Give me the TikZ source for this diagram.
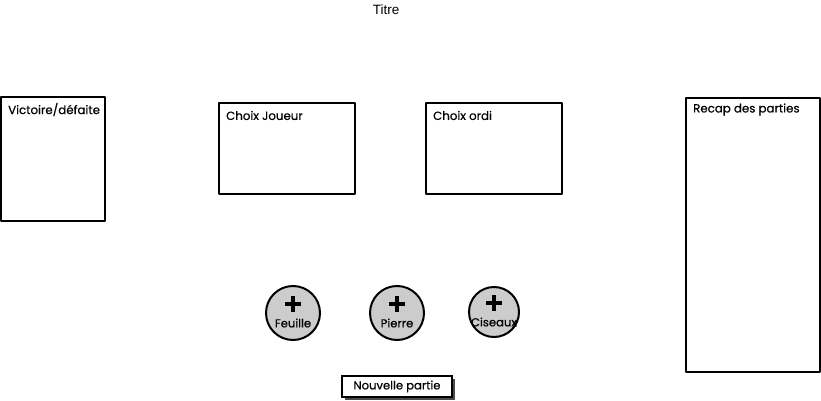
\documentclass[tikz,border=0pt]{standalone}
\usepackage{fontspec}
\setmainfont{Poppins}[FakeBold=0.5]
\newfontfamily\titlefont{Liberation Sans}
\begin{document}
\begin{tikzpicture}[x=1pt,y=-1pt,
  panel/.style={draw=black,line width=2pt,fill=white,line join=round},
  lbl/.style={anchor=west,inner sep=0pt,font=\fontsize{11.8}{13}\selectfont},
  btn/.style={circle,draw=black,line width=2pt,fill=black!20,minimum size=#1,inner sep=0pt},
  plusbar/.style={line width=4.6pt,black},
  btnlbl/.style={inner sep=0pt,font=\fontsize{11.6}{13}\selectfont}]
\useasboundingbox (0,0) rectangle (821,401);
\node[inner sep=0pt,font=\titlefont\fontsize{13.5}{15}\selectfont] (titre) at (386,10) {Titre};
% panels
\draw[panel] (1,97) rectangle (105,221);
\node[lbl] (vd) at (8,109.5) {Victoire/défaite};
\draw[panel] (219,103) rectangle (355,194);
\node[lbl] (cj) at (226,115.5) {Choix Joueur};
\draw[panel] (426,103) rectangle (562,194);
\node[lbl] (co) at (433,115.5) {Choix ordi};
\draw[panel] (686,98) rectangle (820,372);
\node[lbl] (rp) at (693,109.5) {Recap des parties};
% buttons
\foreach \nm/\cx/\cy/\d/\t in {f/293/313/54/Feuille, p/397/313/54/Pierre, c/494/312/50/Ciseaux}{
  \node[btn=\d pt] (\nm) at (\cx,\cy) {};
  \draw[plusbar] (\cx-8,\cy-9) -- (\cx+8,\cy-9);
  \draw[plusbar] (\cx,\cy-17) -- (\cx,\cy-1);
  \node[btnlbl] (\nm l) at (\cx,\cy+10) {\t};
}
% nouvelle partie
\fill[black!70] (345,379) rectangle (455,400);
\draw[fill=white,line width=1.4pt] (342,376) rectangle (452,397);
\node[inner sep=0pt,font=\fontsize{11.6}{13}\selectfont] (np) at (397,386.5) {Nouvelle partie};
\end{tikzpicture}
\end{document}
